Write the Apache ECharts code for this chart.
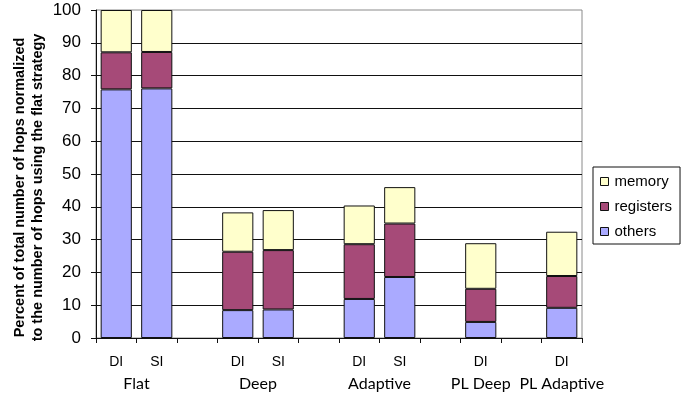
<!DOCTYPE html>
<html>
<head>
<meta charset="utf-8">
<script src="https://cdn.jsdelivr.net/npm/echarts@6/dist/echarts.min.js"></script>
<style>
  html, body { margin: 0; padding: 0; background: #fff; }
  #chart { width: 691px; height: 397px; }
</style>
</head>
<body>
<div id="chart"></div>
<script>
// Bar slots: blank slots separate the strategy groups
const barLabels = ['DI', 'SI', '', 'DI', 'SI', '', 'DI', 'SI', '', 'DI', '', 'DI'];

// Group names sit on a half-slot grid (25 points across the 12 slots)
const groupLabels = ['', '', 'Flat', '', '', '', '', '', 'Deep', '', '', '', '', '',
  'Adaptive', '', '', '', '', 'PL Deep', '', '', '', 'PL Adaptive', ''];

// Hop shares per component, percent of the flat total
const others    = [75.8, 76.1, null, 8.5, 8.7, null, 11.9, 18.6, null, 4.9, null, 9.2];
const registers = [11.3, 11.1, null, 17.8, 18.1, null, 16.7, 16.3, null, 10.1, null, 9.7];
const memory    = [12.9, 12.8, null, 12.0, 12.2, null, 11.8, 11.1, null, 13.9, null, 13.5];

const yTicks = { min: 0, max: 100, step: 10 };

const chart = echarts.init(document.getElementById('chart'), null, { renderer: 'canvas' });

const barStyle = (color) => ({ color: color, borderColor: '#111', borderWidth: 1 });

chart.setOption({
  animation: false,
  backgroundColor: '#fff',
  textStyle: { fontFamily: 'Liberation Sans, Arial, sans-serif' },
  grid: {
    left: 96, right: 109, top: 10, bottom: 59,
    containLabel: false, outerBoundsMode: 'none',
    show: true, borderColor: '#8a8a8a', borderWidth: 1, backgroundColor: 'transparent'
  },
  legend: {
    data: ['memory', 'registers', 'others'],
    orient: 'vertical',
    left: 593, top: 167,
    padding: [7, 8, 5, 7],
    itemGap: 10,
    itemWidth: 8, itemHeight: 8,
    icon: 'rect',
    borderColor: '#111', borderWidth: 1,
    itemStyle: { borderColor: '#111', borderWidth: 1 },
    textStyle: { fontSize: 15, color: '#000', fontFamily: 'Liberation Sans, Arial, sans-serif', padding: [0, 0, 0, 1] }
  },
  xAxis: [
    {
      type: 'category',
      data: barLabels,
      boundaryGap: true,
      axisLine: { lineStyle: { color: '#111', width: 1 } },
      axisTick: { show: true, interval: 0, length: 5, lineStyle: { color: '#111' } },
      axisLabel: { interval: 0, fontSize: 14, color: '#000', margin: 17 },
      splitLine: { show: false }
    },
    {
      type: 'category',
      data: groupLabels,
      boundaryGap: false,
      position: 'bottom',
      axisLine: { show: false },
      axisTick: { show: false },
      axisLabel: { interval: 0, fontSize: 16, color: '#000', margin: 38, fontFamily: 'Lato, Open Sans, sans-serif' },
      splitLine: { show: false }
    }
  ],
  yAxis: {
    type: 'value',
    min: yTicks.min, max: yTicks.max, interval: yTicks.step,
    name: 'Percent of total number of hops normalized\nto the number of hops using the flat strategy',
    nameLocation: 'middle',
    nameRotate: 90,
    nameGap: 49,
    nameMoveOverlap: false,
    nameTextStyle: {
      fontSize: 14.5, fontWeight: 'bold', color: '#000', lineHeight: 18,
      align: 'center', padding: [0, 27, 0, 0],
      fontFamily: 'Liberation Sans, Arial, sans-serif'
    },
    axisLine: { show: true, lineStyle: { color: '#111', width: 1 } },
    axisTick: { show: true, length: 5, lineStyle: { color: '#111' } },
    axisLabel: { fontSize: 17, color: '#000', margin: 15 },
    splitLine: { show: true, showMaxLine: false, lineStyle: { color: '#111', width: 1 } }
  },
  series: [
    { name: 'others', type: 'bar', stack: 'hops', data: others, barCategoryGap: '23%', itemStyle: barStyle('#AAAAFF') },
    { name: 'registers', type: 'bar', stack: 'hops', data: registers, itemStyle: barStyle('#A64A78') },
    { name: 'memory', type: 'bar', stack: 'hops', data: memory, itemStyle: barStyle('#FFFFCC') }
  ]
});
</script>
</body>
</html>
